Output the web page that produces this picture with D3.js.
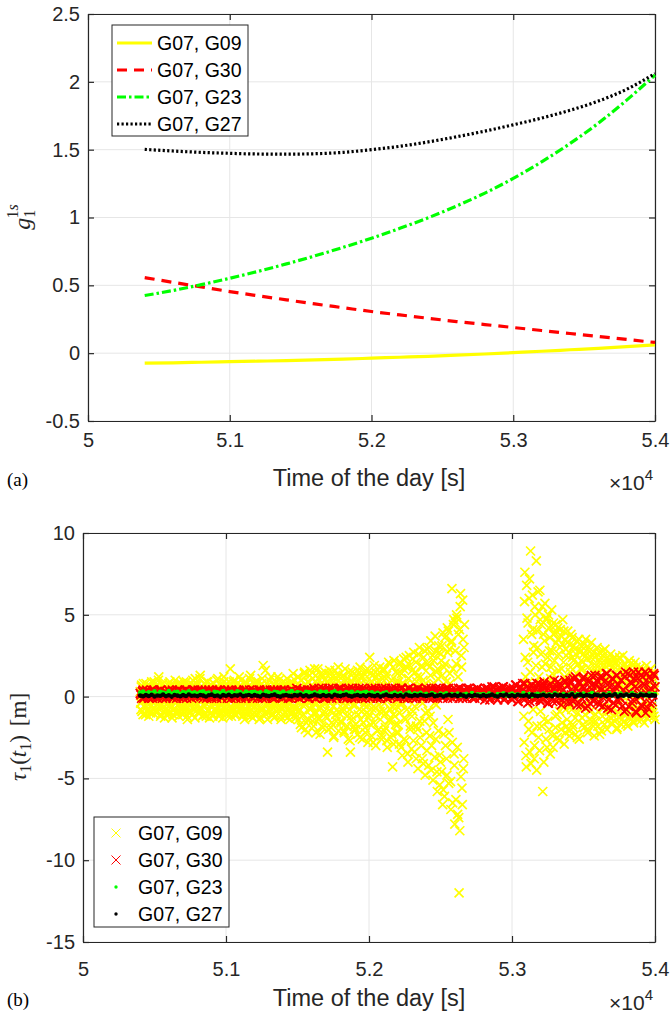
<!DOCTYPE html>
<head>
<meta charset="utf-8">
<style>
  body { margin: 0; background: #fff; }
  svg text { font-family: "Liberation Sans", Arial, sans-serif; }
</style>
</head>
<div id="fig"></div>
<script src="https://d3js.org/d3.v7.min.js"></script>
<script>
  // ---- panel (a): smooth curves, one sample every 200 s ----
  const curveTimes = [50400, 50600, 50800, 51000, 51200, 51400, 51600, 51800, 52000, 52200,
    52400, 52600, 52800, 53000, 53200, 53400, 53600, 53800, 54000];
  const g09Curve = [-0.074, -0.071, -0.067, -0.063, -0.059, -0.055, -0.050, -0.044, -0.037, -0.030,
    -0.023, -0.015, -0.006, 0.004, 0.014, 0.025, 0.036, 0.048, 0.061];
  const g30Curve = [0.557, 0.522, 0.488, 0.454, 0.423, 0.393, 0.363, 0.335, 0.307, 0.282,
    0.257, 0.233, 0.211, 0.189, 0.167, 0.145, 0.123, 0.101, 0.079];
  const g23Curve = [0.425, 0.462, 0.505, 0.552, 0.603, 0.658, 0.717, 0.780, 0.847, 0.920,
    0.998, 1.085, 1.180, 1.288, 1.410, 1.545, 1.695, 1.865, 2.050];
  const g27Curve = [1.502, 1.490, 1.480, 1.473, 1.468, 1.467, 1.470, 1.480, 1.500, 1.525,
    1.557, 1.595, 1.637, 1.683, 1.733, 1.790, 1.858, 1.945, 2.061];

  const pairLabels = ['G07, G09', 'G07, G30', 'G07, G23', 'G07, G27'];
  const xTickValues = [50000, 51000, 52000, 53000, 54000];
  const yTicksA = [-0.5, 0, 0.5, 1, 1.5, 2, 2.5];
  const yTicksB = [-15, -10, -5, 0, 5, 10];

  // ---- panel (b): residuals per epoch, values in decimetres (G09, G30) ----
  // G09 is sampled every 2.5 s; kept as two interleaved 5 s lists.
  // first arc 50400..52667.5, second arc 53080..54000 (nothing in between)
  const g09Arc1 = [
    3, -8, 7, -2, -11, 5, 1, -5, 8, -9, 4, -1, -12, 6, -6, 2, 9, -3, -10, 5,
    -7, 6, 0, -10, 4, -4, 12, -8, 2, -11, 7, -2, 8, -6, -13, 3, 5, -9, 1, -4,
    8, -5, -10, 6, -1, 7, -11, 3, -7, 10, -3, 0, -9, 7, -12, 5, -2, 8, -8, 2,
    -6, 9, -10, 4, -3, 6, -14, 1, 6, -9, 8, -5, 3, -11, 7, -1, -8, 11, -4, 0,
    7, -10, 2, -7, 13, -3, 5, -12, 1, 8, -6, -11, 4, 9, -2, -9, 6, -13, 3, -5,
    7, -1, -11, 8, -4, 2, -8, 10, -6, 0, -12, 5, 7, -3, -10, 4, -7, 12, -2, -10,
    1, 8, -5, -12, 6, -9, 17, -2, 3, -7, 9, -4, -11, 2, 7, -6, 0, -10, 6, -3,
    -8, 10, -1, 5, -11, 3, -14, 7, -4, 8, -6, 1, -9, 11, -2, -12, 6, -5, 4, -10,
    8, -3, 7, -11, 0, 9, -7, 4, -13, 2, 8, -8, 19, 6, -10, 16, -5, 3, -14, 7,
    -2, 5, -9, 12, -6, 1, -11, 7, 3, -12, 9, -4, 0, -8, 10, -3, 6, -14, 2, -7,
    9, -6, 4, -10, 8, -1, -13, 5, 8, -5, 2, -11, 7, -9, 14, -2, -7, 4, -11, 1,
    -9, 12, -4, 6, -17, 3, 10, -12, 1, -6, 15, -20, 5, -2, 9, -14, 0, 13, -8, -3,
    7, -15, 2, -10, 17, -5, -22, 8, -1, 11, -13, 4, -7, 14, -18, 1, 6, -11, 10, -4,
    -12, 5, -34, 9, -3, 16, -9, -19, 3, 12, -6, -24, 7, 0, -15, 11, -2, 18, -10, 4,
    8, -16, 1, -7, 13, -21, 6, -3, 10, -12, 2, -26, 15, -8, -34, 5, -14, 9, -1, -18,
    11, -5, -20, 3, 16, -11, 7, -25, 0, 12, -9, 4, -16, 14, -3, -22, 8, -6, 17, -13,
    2, 24, -17, 9, -7, 13, -28, 5, -2, 15, -12, 1, -21, 10, -5, 18, -14, 6, -24, 3,
    -9, 16, -4, -19, 11, -27, 7, 0, -15, 20, -8, 4, -23, -43, -11, 22, -3, -17, 9, -6,
    14, -22, 5, -10, 21, -31, 8, -4, 17, -26, 2, -14, 24, -8, -35, 11, -1, 19, -18, 6,
    -12, 23, -27, 3, -6, 15, -38, 9, -20, 26, 1, -15, 12, -30, 18, -4, -41, 7, 28, -10,
    4, -33, 20, -9, 30, -24, 13, -45, 2, 25, -16, 8, -37, 28, -5, -46, 17, -21, 27, -54,
    -40, 22, 31, -66, -57, 18, 36, -30, 9, -48, 27, 40, -22, 14, -52, 33, 66, -65, 44, -35,
    -78, 45, 20, 48, -72, 38, -120, -82, 63, 25, -56, 59, -44, 30
  ];
  const g09Arc1Mid = [
    -4, 6, -9, 1, 8, -6, 3, -11, 5, -2, 7, -8, 0, 4, -10, 6, -3, 2, -7, 9,
    5, -3, -9, 7, -1, 10, -6, 2, -12, 4, -5, 8, -2, -9, 6, 0, -11, 3, 7, -4,
    -2, 9, -7, 3, -13, 5, 1, -8, 6, -4, 2, -10, 8, -1, 4, -9, 7, -5, 0, -11,
    6, -8, 1, -5, 9, -12, 3, 7, -3, -10, 5, 0, -7, 10, -2, 4, -13, 6, -6, 8,
    -5, 3, -9, 11, -1, -7, 6, 0, -11, 8, 2, -4, -12, 5, 9, -8, 1, -3, 7, -10,
    4, -12, 8, -2, 1, -9, 6, -6, 11, -3, 3, -10, 0, 7, -5, -13, 9, -1, 5, -8,
    -3, 5, -10, 2, 9, -7, 0, -12, 6, 4, -8, 10, -5, -1, -11, 8, 3, -6, 12, -4,
    7, -6, 2, -12, 5, 0, -8, 9, -3, -11, 6, -1, 4, -9, 13, -5, 1, -13, 8, -2,
    -6, 9, -4, 3, -10, 6, -14, 1, 7, -7, 11, -3, 2, -12, 5, 0, -9, 8, -5, 4,
    10, -7, 1, -11, 5, -4, 8, -13, 3, 6, -9, 0, 12, -6, -2, 7, -12, 4, -8, 2,
    -5, 3, -12, 8, -1, 11, -8, 2, -4, -14, 6, 9, -10, 1, -6, 5, 10, -13, 0, -7,
    12, -14, 3, -8, 10, -19, 5, 0, -11, 14, -4, 7, -16, 2, -22, 9, -7, 16, -2, -12,
    -6, 11, -18, 4, -3, 13, -10, 1, 17, -14, 6, -23, 8, -5, 12, -19, 3, -9, 15, 0,
    9, -13, 2, -20, 14, -4, 7, -16, 10, -1, -25, 5, 16, -11, 3, -8, 13, -21, 6, -2,
    -15, 4, 12, -9, 1, -22, 17, -6, 8, -18, 11, -3, 3, -27, 9, -12, 15, -5, 0, -20,
    6, -17, 13, -2, -23, 10, -8, 18, -14, 4, -26, 12, -5, 1, -19, 16, -10, 7, -28, 3,
    -11, 14, -4, -24, 9, 2, -16, 19, -7, -30, 12, -1, 8, -20, 15, -9, 4, -26, 11, -3,
    17, -21, 6, -10, 13, -31, 1, 21, -14, 5, -25, 10, -6, 18, -29, 3, -12, 15, -22, 8,
    -17, 9, -29, 20, -5, 14, -36, 3, 23, -13, 7, -27, 18, -2, -40, 11, 25, -20, 4, -32,
    16, -9, 27, -34, 2, 21, -18, 12, -44, 6, 30, -25, -3, 19, -38, 10, 24, -15, -48, 8,
    -22, 29, 1, -42, 18, -12, 34, -30, 7, -51, 22, -4, 37, -26, 15, -58, 11, 31, -36, 3,
    26, -46, 13, 39, -23, -61, 20, 5, -38, 42, -14, -53, 29, 8, -69, 34, -28, 17, 47, -42,
    28, -63, 50, -31, 12, -74, 41, 55, -49, 18, -66, 35, -38, 44
  ];
  const g09Arc2 = [
    35, -28, 76, 12, -43, 48, 21, -15, 60, -34, 89, 5, -22, 41, 27, -38, 55, 9, 83, -18,
    30, -25, 52, 65, -9, 44, 18, -58, 38, -14, 57, 3, 47, -31, 24, 50, -20, 36, 11, 43,
    28, -24, 45, 7, 39, -19, 33, -11, 42, 16, -27, 30, 4, 37, -16, 47, 21, -29, 35, -8,
    25, -14, 40, 10, -21, 32, 18, -6, 36, -17, 22, 2, 29, -23, 14, 34, -10, 20, -26, 27,
    5, 31, -13, 17, 26, -19, 9, 35, -4, 23, -22, 12, 28, -9, 1, 33, -15, 19, 6, -24,
    24, -11, 15, 30, -18, 8, 27, -3, 20, -21, 13, 25, -7, 3, 29, -14, 18, -20, 10, 22,
    -9, 16, 26, -16, 4, 21, -12, 14, 24, -5, 11, -19, 19, 2, -13, 23, 7, -17, 15, 25,
    12, -15, 20, 3, -10, 17, -18, 9, 22, -6, 14, -12, 1, 19, -16, 8, 21, -8, 13, -14,
    16, -7, 10, -13, 18, 2, -11, 15, 5, -16, 12, -4, 19, -9, 7, 14, -12, 3, 17, -6,
    9, -10, 13, 4, -14
  ];
  const g09Arc2Mid = [
    -12, 58, 24, -36, 68, 8, 45, -20, 72, 15, -41, 38, 62, -8, 31, -30, 50, 19, -45, 40,
    64, 12, -33, 47, 26, -18, 55, 2, -40, 34, 20, -26, 48, 9, -15, 42, 28, -35, 18, 53,
    14, -31, 38, 22, -12, 44, 5, -25, 35, 26, -9, 41, -20, 17, 32, -5, 40, 12, -22, 29,
    -18, 33, 8, 27, -24, 15, 38, -8, 24, -19, 31, 11, -13, 26, 4, -25, 20, 35, -3, 17,
    28, -6, 21, -17, 12, 32, -11, 25, 3, -20, 18, 30, -14, 9, 24, -1, 15, -18, 27, 7,
    -15, 19, 6, 26, -9, 14, -23, 22, 1, 17, -12, 28, 10, -17, 21, 5, -8, 24, -2, 13,
    20, -13, 3, 18, -7, 23, 9, -15, 12, 21, -20, 6, 16, -10, 24, -4, 11, -14, 19, 0,
    -11, 15, 5, -17, 18, 8, -9, 13, -13, 20, 1, -6, 16, -15, 10, 4, -12, 18, -3, 9,
    13, -9, 17, -5, 7, -14, 11, 1, -10, 15, -7, 6, -13, 12, 3, -8, 16, -11, 5, 14,
    -8, 11, -12, 6
  ];
  // G30: every 5 s, 50400..54000, as two interleaved 10 s lists
  const g30Resid = [
    2, -1, 4, 0, 3, 1, -1, 2, 4, 0, 3, 1, -1, 2, 4, 1, 0, 3, -1, 2,
    4, 0, 2, -1, 3, 1, 4, 0, 2, 3, -1, 1, 4, 2, 0, 3, -1, 2, 4, 1,
    0, 3, 1, 4, -1, 2, 3, 0, 4, 1, -1, 3, 2, 0, 4, 1, 3, -1, 2, 4,
    1, -1, 3, 2, 4, 0, 2, -1, 3, 4, 1, 0, 2, 4, -1, 3, 1, 2, 0, 4,
    3, 1, -1, 4, 2, 0, 3, 4, -1, 1, 2, 4, 0, 3, -1, 2, 4, 1, 3, 0,
    2, 4, 0, 1, 3, -1, 4, 2, 0, 3, 1, -1, 4, 2, 3, 0, 1, 4, -1, 2,
    4, 0, 3, -1, 2, 5, 1, 3, -1, 4, 0, 2, 5, 1, -1, 3, 4, 0, 2, 5,
    1, 3, -1, 4, 2, 0, 5, 3, -1, 1, 4, 2, 0, 5, 3, -1, 2, 4, 1, 0,
    3, -1, 5, 1, 2, 4, 0, 3, -1, 5, 2, 1, 4, -1, 3, 0, 5, 2, 1, 4,
    -1, 4, 2, 5, 0, 3, 1, -1, 5, 2, 4, 0, 3, -1, 5, 1, 2, 4, 0, 3,
    5, 1, -1, 3, 4, 0, 2, 5, -1, 3, 1, 4, 0, 2, 5, -1, 3, 1, 4, 2,
    0, 4, 2, -1, 5, 3, 1, 4, -1, 2, 5, 0, 3, 4, -1, 1, 5, 2, 0, 3,
    4, -2, 2, 5, 1, -1, 6, 3, 0, 4, -2, 2, 5, 1, 6, -1, 3, 0, 4, 2,
    -2, 5, 3, 7, -3, 1, 6, 4, -1, 8, 2, -4, 5, 0, 7, 3, -2, 6, 1, 8,
    -3, 4, 7, 0, 6, -4, 2, 8, -1, 5, 3, -3, 9, 1, 6, -2, 4, 10, 0, 7,
    -4, 8, 3, 11, -2, 5, 1, 9, -5, 6, 12, 0, 4, -6, 10, 2, 7, -3, 13, 1,
    9, -5, 5, 12, -1, 3, 14, -7, 8, 2, 11, -4, 6, 13, -2, 0, 10, -6, 4, 12,
    -8, 14, 3, 9, -4, 15, 6, -10, 11, 1, 13, -6, 8, 15, 2, -7, 12, 5, -3, 14,
    6
  ];
  const g30ResidMid = [
    1, 3, -1, 2, 4, 0, 3, 1, -1, 4, 2, 0, 3, 1, 4, -1, 2, 3, 0, 1,
    3, 1, 4, 0, 2, -1, 3, 4, 1, 0, 2, 4, -1, 3, 1, 2, 4, 0, 3, 2,
    4, 2, 0, 3, 1, 4, -1, 2, 3, 0, 4, 1, 3, -1, 2, 4, 0, 1, 3, 2,
    2, 4, 1, -1, 3, 2, 0, 4, 1, 3, -1, 2, 4, 0, 3, 1, 4, 2, -1, 3,
    0, 3, 2, 4, 1, -1, 3, 0, 4, 2, 1, 3, -1, 4, 2, 0, 3, 1, 4, -1,
    4, 1, 3, -1, 2, 4, 0, 3, 1, 5, 2, -1, 3, 0, 4, 2, 1, -1, 4, 3,
    2, 5, -1, 3, 4, 0, 2, 5, 1, -1, 3, 4, 0, 2, 5, 1, 3, -1, 4, 1,
    5, 0, 3, 1, -1, 4, 2, 0, 5, 3, -1, 2, 4, 1, 0, 5, 3, -1, 2, 4,
    1, 4, 0, 3, 5, -1, 2, 4, 1, 0, 3, 5, -1, 2, 4, 1, 3, 0, 5, 2,
    3, 0, 5, 1, -1, 4, 2, 5, 0, 3, -1, 4, 1, 2, 5, 0, 3, -1, 4, 1,
    2, 4, 0, 5, -1, 2, 4, 1, 3, 5, 0, -1, 3, 4, 1, 5, 0, 2, -1, 3,
    4, 1, 5, 2, 0, -1, 4, 3, 5, 1, 2, 4, -1, 0, 3, 5, 2, -1, 4, 1,
    2, 5, 0, 3, -2, 4, 1, 6, -1, 3, 5, 0, 2, 6, -2, 4, 1, 3, 5, -1,
    4, 0, 7, 2, -3, 5, 1, 8, -2, 3, 6, 0, -3, 7, 2, 4, -1, 8, 3, -2,
    5, -2, 9, 1, 4, -4, 7, 3, -3, 10, 2, 6, -1, 8, -5, 4, 0, 9, 2, -3,
    10, 1, -3, 6, 12, -5, 3, 8, -1, 11, 5, -7, 2, 9, -4, 13, 4, -2, 7, 10,
    -3, 12, 4, -6, 9, 1, 14, -2, 6, -8, 11, 3, -5, 13, 7, -1, 10, 4, -9, 15,
    2, -6, 13, 8, -2, 11, -9, 5, 15, 0, -5, 12, 7, -10, 14, 3, -4, 10, 1, 13
  ];
  // G23, G27: epochs every 20 s, 50400..54000, values in centimetres
  const g23Resid = [
    24, 31, 18, 27, 22, 33, 16, 29, 25, 20, 34, 19, 26, 30, 17, 28, 23, 32, 21, 26,
    19, 28, 33, 22, 25, 16, 30, 27, 21, 34, 18, 24, 29, 20, 32, 26, 17, 31, 23, 28,
    30, 21, 26, 17, 33, 24, 19, 29, 27, 22, 31, 18, 25, 34, 20, 28, 23, 16, 30, 26,
    22, 27, 18, 31, 24, 29, 15, 26, 32, 20, 25, 19, 28, 23, 30, 17, 27, 21, 24, 29,
    20, 26, 17, 23, 14, 21, 27, 12, 19, 24, 15, 22, 10, 18, 25, 13, 20, 16, 23, 11,
    17, 9, 21, 14, 6, 18, 12, 20, 8, 15, 11, 19, 5, 13, 17, 10, 22, 7, 14, 12,
    16, 8, 19, 11, 4, 15, 13, 20, 7, 12, 18, 9, 14, 6, 21, 10, 16, 3, 13, 17,
    11, 19, 5, 14, 9, 22, 12, 7, 17, 2, 13, 20, 10, 15, 6, 18, 8, 14, 21, 11,
    13, 4, 16, 10, 20, 7, 15, 12, 18, 5, 14, 9, 22, 11, 6, 17, 13, 8, 19, 12,
    15
  ];
  const g27Resid = [
    6, 2, 9, 4, 11, 1, 7, 5, 12, 3, 8, 0, 10, 6, 2, 9, 4, 13, 5, 7,
    3, 10, 6, 1, 8, 12, 4, 7, 0, 9, 5, 11, 2, 8, 6, 13, 3, 7, 10, 4,
    9, 5, 1, 11, 6, 3, 8, 12, 4, 0, 7, 10, 5, 2, 9, 6, 13, 3, 8, 1,
    5, 12, 7, 2, 10, 4, 8, 0, 11, 6, 3, 9, 13, 5, 1, 7, 10, 4, 8, 2,
    11, 6, 3, 9, 0, 7, 12, 5, 2, 10, 4, 8, 1, 13, 6, 3, 9, 5, 11, 7,
    4, 8, 13, 2, 6, 10, 1, 7, 11, 5, 9, 3, 12, 6, 0, 8, 4, 10, 7, 2,
    9, 3, 7, 12, 5, 1, 10, 6, 13, 4, 8, 2, 11, 7, 5, 9, 0, 12, 6, 3,
    7, 11, 4, 8, 2, 13, 6, 10, 3, 9, 5, 14, 1, 8, 12, 4, 10, 6, 2, 11,
    8, 5, 12, 3, 10, 7, 14, 1, 9, 6, 13, 4, 11, 8, 2, 12, 7, 10, 5, 9,
    6
  ];

  const axisColor = '#262626';
  const gridColor = '#e6e6e6';

  const epochs = (vals, start, step, unit) =>
    vals.map((v, i) => ({ t: start + i * step, v: v * unit }));

  const g09Points = epochs(g09Arc1, 50400, 5, 0.1)
    .concat(epochs(g09Arc1Mid, 50402.5, 5, 0.1))
    .concat(epochs(g09Arc2, 53080, 5, 0.1))
    .concat(epochs(g09Arc2Mid, 53082.5, 5, 0.1));
  const g30Points = epochs(g30Resid, 50400, 10, 0.1).concat(epochs(g30ResidMid, 50405, 10, 0.1));
  const g23Points = epochs(g23Resid, 50400, 20, 0.01);
  const g27Points = epochs(g27Resid, 50400, 20, 0.01);

  var svg = d3.select('#fig').append('svg').attr('width', 670).attr('height', 1015);

  var xA = d3.scaleLinear().domain([50000, 54000]).range([88, 655]);
  var yA = d3.scaleLinear().domain([-0.5, 2.5]).range([421, 14]);
  var xB = d3.scaleLinear().domain([50000, 54000]).range([83, 655]);
  var yB = d3.scaleLinear().domain([-15, 10]).range([942, 533]);

  function styleAxis(g) {
    g.attr('font-family', null).attr('font-size', null);
    g.select('.domain').attr('stroke', axisColor).attr('stroke-width', 1.2);
    g.selectAll('.tick line').attr('stroke', axisColor).attr('stroke-width', 1.2);
    g.selectAll('.tick text').attr('fill', axisColor).style('font-size', '20px');
  }

  function drawFrame(x, y, yTicks, xPad) {
    const [x0, x1] = x.range();
    const [y0, y1] = y.range();
    const grid = svg.append('g').attr('stroke', gridColor).attr('stroke-width', 1);
    grid.selectAll('.gx').data(xTickValues).join('line')
      .attr('x1', (d) => x(d)).attr('x2', (d) => x(d))
      .attr('y1', y0).attr('y2', y1);
    grid.selectAll('.gy').data(yTicks).join('line')
      .attr('x1', x0).attr('x2', x1)
      .attr('y1', (d) => y(d)).attr('y2', (d) => y(d));

    svg.append('g').attr('transform', 'translate(0,' + y0 + ')')
      .call(d3.axisBottom(x).tickValues(xTickValues).tickSizeInner(-6).tickSizeOuter(0)
        .tickPadding(xPad).tickFormat((d) => String(d / 1e4)))
      .call(styleAxis);
    svg.append('g').attr('transform', 'translate(0,' + y1 + ')')
      .call(d3.axisTop(x).tickValues(xTickValues).tickSizeInner(-6).tickSizeOuter(0).tickFormat(''))
      .call(styleAxis);
    svg.append('g').attr('transform', 'translate(' + x0 + ',0)')
      .call(d3.axisLeft(y).tickValues(yTicks).tickSizeInner(-6).tickSizeOuter(0)
        .tickPadding(8).tickFormat((d) => String(d)))
      .call(styleAxis);
    svg.append('g').attr('transform', 'translate(' + x1 + ',0)')
      .call(d3.axisRight(y).tickValues(yTicks).tickSizeInner(-6).tickSizeOuter(0).tickFormat(''))
      .call(styleAxis);
  }

  function xLabel(cx, cy, tag, baseY) {
    svg.append('text').attr('x', cx).attr('y', cy).attr('text-anchor', 'middle')
      .style('font-size', '23.5px').attr('fill', axisColor).text('Time of the day [s]');
    const e = svg.append('text').attr('x', 653).attr('y', baseY + 10).attr('text-anchor', 'end')
      .style('font-size', '21px').attr('fill', axisColor);
    e.append('tspan').text('\u00d710');
    e.append('tspan').attr('dy', -10).style('font-size', '15px').text('4');
    svg.append('text').attr('x', 7).attr('y', baseY + 6)
      .style('font-family', '"Liberation Serif", serif').style('font-size', '19px')
      .text(tag);
  }

  // ---------------- panel (a) ----------------
  drawFrame(xA, yA, yTicksA, 12);

  const lineStyles = [
    { color: '#ffff00', dash: null },
    { color: '#ff0000', dash: '10,7' },
    { color: '#00ff00', dash: '9,3,2.5,3' },
    { color: '#000000', dash: '2.2,2.3' },
  ];
  const curves = [g09Curve, g30Curve, g23Curve, g27Curve];

  const line = d3.line()
    .x((d) => xA(d[0]))
    .y((d) => yA(d[1]))
    .curve(d3.curveMonotoneX);

  curves.forEach((vals, k) => {
    svg.append('path')
      .attr('d', line(curveTimes.map((t, i) => [t, vals[i]])))
      .attr('fill', 'none')
      .attr('stroke', lineStyles[k].color)
      .attr('stroke-width', 3.2)
      .attr('stroke-dasharray', lineStyles[k].dash);
  });

  var legA = svg.append('g');
  legA.append('rect').attr('x', 112).attr('y', 25).attr('width', 136).attr('height', 111)
    .attr('fill', '#fff').attr('stroke', axisColor).attr('stroke-width', 1);
  pairLabels.forEach((lab, k) => {
    const ly = 43 + k * 27;
    legA.append('line').attr('x1', 117).attr('x2', 152).attr('y1', ly).attr('y2', ly)
      .attr('stroke', lineStyles[k].color).attr('stroke-width', 3.2)
      .attr('stroke-dasharray', lineStyles[k].dash);
    legA.append('text').attr('x', 157).attr('y', ly + 7).style('font-size', '19.5px').text(lab);
  });

  // y label g_1^{1s}
  var ylA = svg.append('text').attr('transform', 'translate(30,217) rotate(-90)')
    .attr('text-anchor', 'middle').style('font-family', '"Liberation Serif", serif')
    .style('font-size', '24px').attr('fill', axisColor);
  ylA.append('tspan').style('font-style', 'italic').text('g');
  ylA.append('tspan').attr('dy', 5).style('font-size', '16px').text('1');
  ylA.append('tspan').attr('dx', -8).attr('dy', -17).style('font-size', '16px').text('1');
  ylA.append('tspan').style('font-size', '16px').style('font-style', 'italic').text('s');

  xLabel(369, 486, '(a)', 480);

  // ---------------- panel (b) ----------------
  drawFrame(xB, yB, yTicksB, 20);

  const cross = 'M-4.5,-4.5L4.5,4.5M-4.5,4.5L4.5,-4.5';
  function crosses(points, color) {
    svg.append('g').selectAll('path').data(points).join('path')
      .attr('transform', (d) => 'translate(' + xB(d.t) + ',' + yB(d.v) + ')')
      .attr('d', cross)
      .attr('stroke', color)
      .attr('stroke-width', 1.7)
      .attr('fill', 'none');
  }
  function dots(points, color) {
    svg.append('g').selectAll('circle').data(points).join('circle')
      .attr('cx', (d) => xB(d.t))
      .attr('cy', (d) => yB(d.v))
      .attr('r', 2.3)
      .attr('fill', color);
  }
  crosses(g09Points, '#ffff00');
  crosses(g30Points, '#ff0000');
  dots(g23Points, '#00ff00');
  dots(g27Points, '#000000');

  var legB = svg.append('g');
  legB.append('rect').attr('x', 94).attr('y', 817).attr('width', 135).attr('height', 110)
    .attr('fill', '#fff').attr('stroke', axisColor).attr('stroke-width', 1);
  const markerColors = ['#ffff00', '#ff0000', '#00ff00', '#000000'];
  pairLabels.forEach((lab, k) => {
    const ly = 833 + k * 27;
    if (k < 2) {
      legB.append('path').attr('transform', 'translate(116,' + ly + ')')
        .attr('d', 'M-4.5,-4.5L4.5,4.5M-4.5,4.5L4.5,-4.5')
        .attr('stroke', markerColors[k]).attr('stroke-width', 1).attr('fill', 'none');
    } else {
      legB.append('circle').attr('cx', 116).attr('cy', ly).attr('r', 1.7).attr('fill', markerColors[k]);
    }
    legB.append('text').attr('x', 138).attr('y', ly + 7).style('font-size', '19.5px').text(lab);
  });

  // y label tau_1(t_1) [m]
  var ylB = svg.append('text').attr('transform', 'translate(26,737) rotate(-90)')
    .attr('text-anchor', 'middle').style('font-family', '"Liberation Serif", serif')
    .style('font-size', '23px').attr('fill', axisColor);
  ylB.append('tspan').style('font-style', 'italic').text('\u03c4');
  ylB.append('tspan').attr('dy', 5).style('font-size', '16px').text('1');
  ylB.append('tspan').attr('dy', -5).text('(');
  ylB.append('tspan').style('font-style', 'italic').text('t');
  ylB.append('tspan').attr('dy', 5).style('font-size', '16px').text('1');
  ylB.append('tspan').attr('dy', -5).text(')');
  ylB.append('tspan').attr('dx', 9).text('[m]');

  xLabel(369, 1006, '(b)', 1000);
</script>
